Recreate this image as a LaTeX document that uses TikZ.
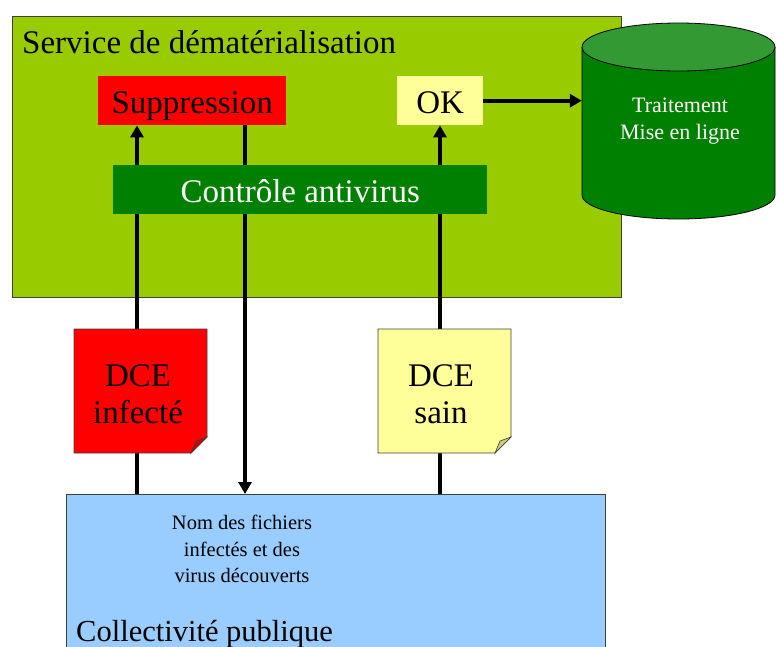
\documentclass[tikz,border=0pt]{standalone}
\usepackage{fontspec}
\setmainfont{Liberation Serif}
\usetikzlibrary{arrows.meta,calc}
\definecolor{bggreen}{HTML}{99CC00}
\definecolor{dkgreen}{HTML}{008000}
\definecolor{cyltop}{HTML}{339933}
\definecolor{lyellow}{HTML}{FFFF99}
\definecolor{lblue}{HTML}{99CCFF}
\definecolor{pred}{HTML}{FF0000}
\definecolor{flapred}{HTML}{CC0000}
\definecolor{flapyel}{HTML}{CCCC77}
\tikzset{
  big/.style={font=\fontsize{33}{37}\selectfont},
  small/.style={font=\fontsize{20.5}{26.5}\selectfont},
  cyltext/.style={font=\fontsize{22}{27}\selectfont},
  box/.style={inner sep=0pt, anchor=north west, big},
  arr/.style={line width=4pt, -{Triangle[width=13pt,length=12pt]}},
  thinb/.style={draw=black!75, line width=0.8pt},
}
\begin{document}
\begin{tikzpicture}[x=1pt,y=1pt]
\useasboundingbox (0,0) rectangle (776,-646);
% service area
\node (svc) [box, thinb, fill=bggreen, minimum width=609pt, minimum height=281pt] at (12,-16) {};
\node (svct) [big, anchor=base west, inner sep=0pt] at (22,-53) {Service de dématérialisation};
% cylinder
\fill[dkgreen] (582,-47) -- (582,-195) arc[start angle=180, end angle=360, x radius=96.5, y radius=24] -- (775,-47) -- cycle;
\draw[line width=0.8pt] (582,-47) -- (582,-195) arc[start angle=180, end angle=360, x radius=96.5, y radius=24] -- (775,-47);
\filldraw[fill=cyltop, line width=0.8pt] (678.5,-47) ellipse [x radius=96.5, y radius=24];
\node (cyl) [minimum width=193pt, minimum height=172pt, inner sep=0pt] at (678.5,-121) {};
\node (cylt) [cyltext, text=white, align=center] at (680,-121) {Traitement\\Mise en ligne};
% top boxes
\node (supp) [box, fill=pred, minimum width=188pt, minimum height=49pt] at (98,-76) {};
\node [big, anchor=base, inner sep=0pt] at (supp.center |- 0,-113) {Suppression};
\node (ok) [box, fill=lyellow, minimum width=86pt, minimum height=49pt] at (397,-76) {};
\node [big, anchor=base, inner sep=0pt] at (ok.center |- 0,-113) {OK};
% collectivite
\node (coll) [box, thinb, fill=lblue, minimum width=539pt, minimum height=170pt] at (66,-494) {};
\node (collt) [anchor=base west, inner sep=0pt, font=\fontsize{30.5}{36}\selectfont] at (76,-641) {Collectivité publique};
\node (msg) [small, align=center] at (242,-549) {Nom des fichiers\\infectés et des\\virus découverts};
% connectors
\coordinate (x1) at (137,0);
\coordinate (x2) at (245,0);
\coordinate (x3) at (440,0);
\draw[arr] (coll.north -| x1) -- (supp.south -| x1);
\draw[arr] (supp.south -| x2) -- (coll.north -| x2);
\draw[arr] (coll.north -| x3) -- (ok.south -| x3);
\draw[arr] (ok.east) -- (cyl.west |- ok.east);
% antivirus
\node (av) [box, fill=dkgreen, minimum width=374pt, minimum height=49pt] at (113,-165) {};
\node [big, text=white, anchor=base, inner sep=0pt] at (av.center |- 0,-202) {Contrôle antivirus};
% DCE notes
\filldraw[fill=pred, draw=black!75, line width=0.8pt] (74,-329) -- (207,-329) -- (207,-437) -- (191,-453) -- (74,-453) -- cycle;
\filldraw[fill=flapred, draw=black!75, line width=0.6pt] (191,-453) -- (207,-437) -- (196,-441) -- cycle;
\node (dce1) [big, align=center, inner sep=0pt] at (138,-394) {DCE\\infecté};
\filldraw[fill=lyellow, draw=black!75, line width=0.8pt] (378,-329) -- (511,-329) -- (511,-437) -- (495,-453) -- (378,-453) -- cycle;
\filldraw[fill=flapyel, draw=black!75, line width=0.6pt] (495,-453) -- (511,-437) -- (500,-441) -- cycle;
\node (dce2) [big, align=center, inner sep=0pt] at (441,-394) {DCE\\sain};
\end{tikzpicture}
\end{document}
